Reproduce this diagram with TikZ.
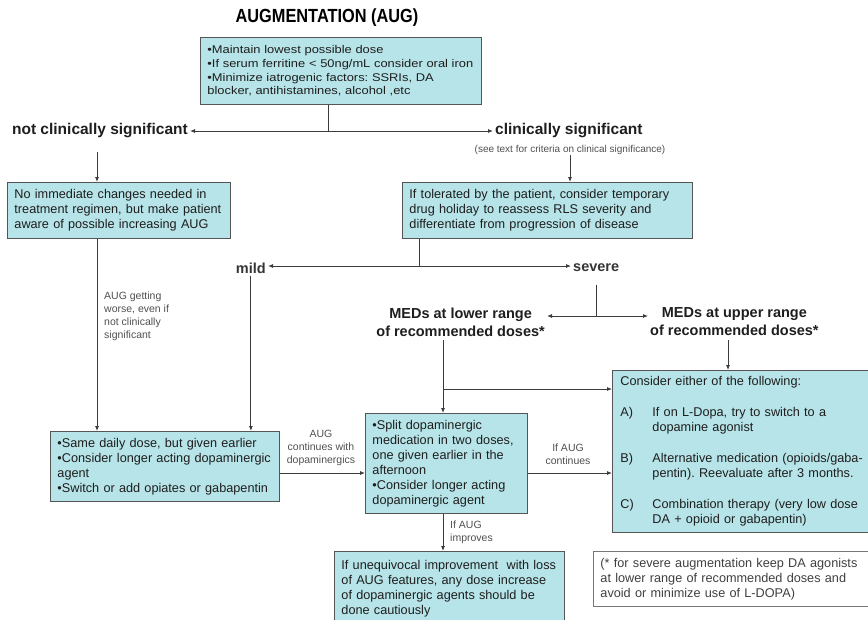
\documentclass[tikz,border=0pt]{standalone}
\usepackage{fontspec}
\setmainfont{Liberation Sans}
\newfontfamily\widefont[FakeStretch=1.15]{Liberation Sans}
\newfontfamily\titlefont[FakeStretch=0.86]{Liberation Sans}
\usetikzlibrary{arrows.meta}
\frenchspacing
\definecolor{boxfill}{RGB}{183,228,232}
\definecolor{boxline}{RGB}{85,85,85}
\definecolor{lineclr}{RGB}{60,60,60}
\definecolor{txt}{RGB}{30,30,30}
\definecolor{lbl}{RGB}{80,80,80}
\begin{document}
\begin{tikzpicture}[x=1pt,y=-1pt,
  box/.style={draw=boxline, line width=0.9pt, fill=boxfill, anchor=north west, align=left,
    inner xsep=7pt, inner ysep=0pt, text=txt, font=\fontsize{12.7}{15}\selectfont},
  notebox/.style={box, fill=white, draw=boxline!80, text=txt!85},
  head/.style={font=\bfseries\fontsize{15.5}{18}\selectfont, text=txt, inner sep=2pt},
  small/.style={font=\fontsize{10.5}{12.8}\selectfont, text=lbl, align=center, inner sep=0pt},
  link/.style={draw=lineclr, line width=0.8pt},
  arr/.style={link, -{Latex[length=5pt,width=4pt]}},
]
\useasboundingbox (0,0) rectangle (868,619);

% title
\node[font=\titlefont\bfseries\fontsize{19}{21}\selectfont, text=black] (title) at (327,18) {AUGMENTATION (AUG)};

% boxes
\node[box, font=\widefont\fontsize{11.2}{13.7}\selectfont, text width=267pt, minimum height=67pt] (top) at (200,37)
  {•Maintain lowest possible dose\\ •If serum ferritine < 50ng/mL consider oral iron\\ •Minimize iatrogenic factors: SSRIs, DA\\ blocker, antihistamines, alcohol ,etc};

\node[box, text width=209pt, minimum height=56pt] (b1) at (7,182)
  {No immediate changes needed in\\ treatment regimen, but make patient\\ aware of possible increasing AUG};

\node[box, text width=276pt, minimum height=56pt] (b2) at (402,182)
  {If tolerated by the patient, consider temporary\\ drug holiday to reassess RLS severity and\\ differentiate from progression of disease};

\node[box, text width=215pt, minimum height=70pt] (b3) at (50,431)
  {•Same daily dose, but given earlier\\ •Consider longer acting dopaminergic\\ agent\\ •Switch or add opiates or gabapentin};

\node[box, text width=148pt, minimum height=100pt] (b4) at (365,413)
  {•Split dopaminergic\\ medication in two doses,\\ one given earlier in the\\ afternoon\\ •Consider longer acting\\ dopaminergic agent};

\node[box, inner xsep=8pt, text width=244pt, minimum height=162pt] (b5) at (612,370)
  {\begin{tabular}{@{}p{32pt}@{}l@{}}
   \multicolumn{2}{@{}l@{}}{Consider either of the following:}\\[16pt]
   A) & If on L-Dopa, try to switch to a\\
      & dopamine agonist\\[16pt]
   B) & Alternative medication (opioids/gaba-\\
      & pentin). Reevaluate after 3 months.\\[16pt]
   C) & Combination therapy (very low dose\\
      & DA + opioid or gabapentin)
   \end{tabular}};

\node[box, text width=216pt, minimum height=74pt] (b6) at (334,551)
  {If unequivocal improvement\ \ with loss\\ of AUG features, any dose increase\\ of dopaminergic agents should be\\ done cautiously};

\node[notebox, text width=265pt, minimum height=55pt] (note) at (593,551)
  {(* for severe augmentation keep DA agonists\\ at lower range of recommended doses and\\ avoid or minimize use of L-DOPA)};

% decision labels
\node[head, anchor=east] (ncs) at (190,131) {not clinically significant};
\node[head, anchor=west] (cs) at (493,131) {clinically significant};
\node[small, font=\fontsize{10}{12}\selectfont] (see) at (570,150) {(see text for criteria on clinical significance)};
\node[head, anchor=east, font=\bfseries\fontsize{14.5}{18}\selectfont, text=txt!90] (mild) at (268,268) {mild};
\node[head, anchor=west, font=\bfseries\fontsize{14.5}{18}\selectfont, text=txt!90] (severe) at (571,268) {severe};
\node[head, anchor=east, align=center, font=\bfseries\fontsize{14.5}{18}\selectfont] (medlow) at (547,322) {MEDs at lower range\\ of recommended doses*};
\node[head, anchor=west, align=center, font=\bfseries\fontsize{14.5}{18}\selectfont] (medup) at (648,322) {MEDs at upper range\\ of recommended doses*};

% connector labels
\node[small, anchor=north west, align=left] (lworse) at (104,292) {AUG getting\\ worse, even if\\ not clinically\\ significant};
\node[small] (lcont) at (321,448) {AUG\\ continues with\\ dopaminergics};
\node[small] (lif) at (568,454) {If AUG\\ continues};
\node[small, anchor=west, align=left] (limp) at (450,532) {If AUG\\ improves};

% junctions
\coordinate (j1) at (328,131);
\coordinate (s1) at (97,152);
\coordinate (j2) at (419,266);
\coordinate (s3) at (596,285);
\coordinate (j3) at (596,316);
\coordinate (s4) at (443,340);
\coordinate (j4) at (443,389);
\coordinate (j5) at (728,340);
\coordinate (row) at (0,473);

% connectors
\draw[link] (top.south -| j1) -- (j1);
\draw[arr] (j1) -- (ncs.east);
\draw[arr] (j1) -- (cs.west);
\draw[arr] (s1) -- (s1 |- b1.north);
\draw[arr] (see.south) -- (see.south |- b2.north);
\draw[arr] (s1 |- b1.south) -- (s1 |- b3.north);
\draw[link] (b2.south -| j2) -- (j2);
\draw[arr] (j2) -- (j2 -| mild.east);
\draw[arr] (j2) -- (j2 -| severe.west);
\draw[link] (s3) -- (j3);
\draw[arr] (j3) -- (j3 -| medlow.east);
\draw[arr] (j3) -- (j3 -| medup.west);
\draw[arr] (mild.south) -- (mild.south |- b3.north);
\draw[arr] (s4) -- (s4 |- b4.north);
\draw[arr] (j4) -- (j4 -| b5.west);
\draw[arr] (j5) -- (j5 |- b5.north);
\draw[arr] (b3.east |- row) -- (b4.west |- row);
\draw[arr] (b4.east |- row) -- (b5.west |- row);
\draw[arr] (j4 |- b4.south) -- (j4 |- b6.north);
\end{tikzpicture}
\end{document}
